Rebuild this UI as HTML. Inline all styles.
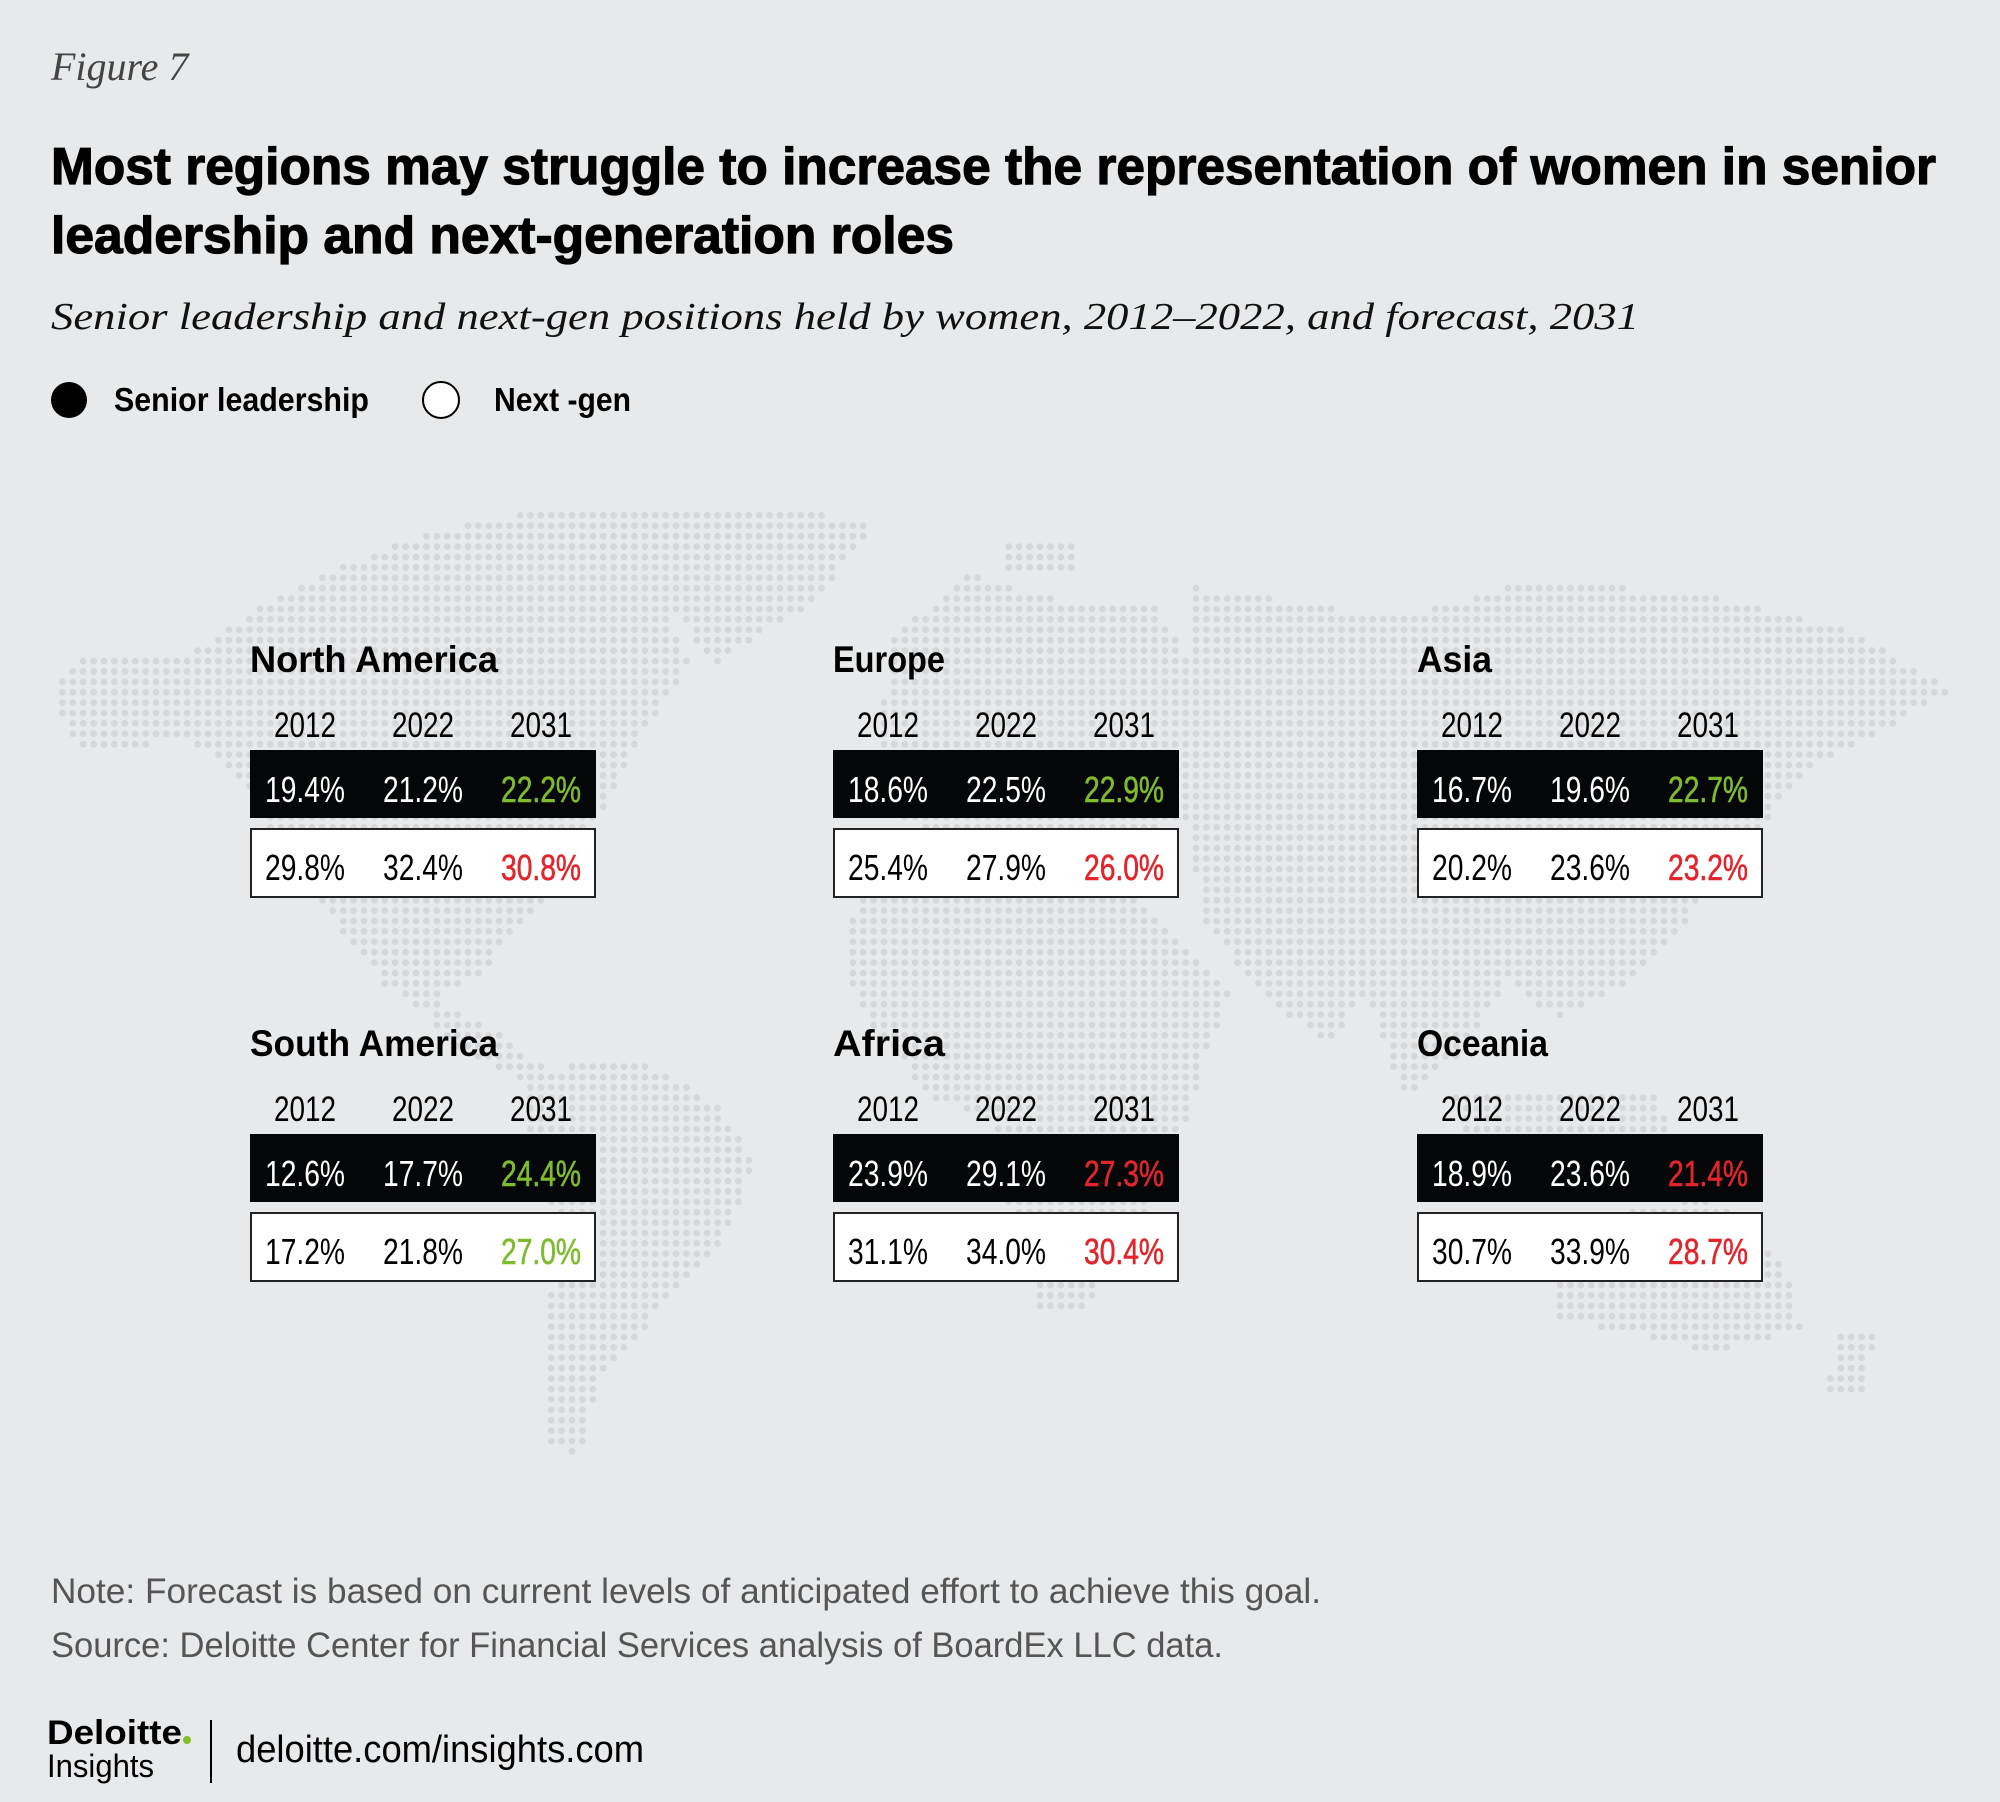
<!DOCTYPE html>
<html><head><meta charset="utf-8"><style>
html,body{margin:0;padding:0;background:#e8e9ea;}
svg{display:block;font-family:"Liberation Sans",sans-serif;}
</style></head><body>
<svg id="chart" width="2000" height="1802" viewBox="0 0 2000 1802" xmlns="http://www.w3.org/2000/svg">
<rect width="2000" height="1802" fill="#e8e9ea"/>
<g id="dots"></g>
<text x="51" y="80" font-family="Liberation Serif, serif" font-style="italic" font-size="40" fill="#444">Figure 7</text>
<text x="51" y="184" font-size="52" font-weight="bold" fill="#000" stroke="#000" stroke-width="1.2" textLength="1885" lengthAdjust="spacingAndGlyphs">Most regions may struggle to increase the representation of women in senior</text>
<text x="51" y="253" font-size="52" font-weight="bold" fill="#000" stroke="#000" stroke-width="1.2" textLength="903" lengthAdjust="spacingAndGlyphs">leadership and next-generation roles</text>
<text x="51" y="329" font-family="Liberation Serif, serif" font-style="italic" font-size="38" fill="#111" textLength="1588" lengthAdjust="spacingAndGlyphs">Senior leadership and next-gen positions held by women, 2012–2022, and forecast, 2031</text>
<g>
<circle cx="69" cy="400" r="18" fill="#000"/>
<text x="114" y="411" font-size="33" font-weight="bold" textLength="255" lengthAdjust="spacingAndGlyphs">Senior leadership</text>
<circle cx="441" cy="400" r="18" fill="#fff" stroke="#000" stroke-width="2"/>
<text x="494" y="411" font-size="33" font-weight="bold" textLength="137" lengthAdjust="spacingAndGlyphs">Next -gen</text>
</g>
<g id="panels"></g>
<text x="51" y="1603" font-size="35" fill="#555" textLength="1270" lengthAdjust="spacingAndGlyphs">Note: Forecast is based on current levels of anticipated effort to achieve this goal.</text>
<text x="51" y="1657" font-size="35" fill="#555" textLength="1172" lengthAdjust="spacingAndGlyphs">Source: Deloitte Center for Financial Services analysis of BoardEx LLC data.</text>
<g>
<text x="47" y="1744" font-size="34" font-weight="bold" fill="#000" textLength="135" lengthAdjust="spacingAndGlyphs">Deloitte</text>
<circle cx="187" cy="1740" r="4" fill="#86bc25"/>
<text x="47" y="1777" font-size="32" fill="#000" textLength="107" lengthAdjust="spacingAndGlyphs">Insights</text>
</g>
<line x1="211" y1="1720" x2="211" y2="1783" stroke="#000" stroke-width="2"/>
<text x="236" y="1762" font-size="38" fill="#000" textLength="408" lengthAdjust="spacingAndGlyphs">deloitte.com/insights.com</text>
</svg>
<script>
const regions = ["North America","Europe","Asia","South America","Africa","Oceania"];
const years = ["2012","2022","2031"];
const seniorValues = [[19.4,21.2,22.2],[18.6,22.5,22.9],[16.7,19.6,22.7],[12.6,17.7,24.4],[23.9,29.1,27.3],[18.9,23.6,21.4]];
const nextgenValues = [[29.8,32.4,30.8],[25.4,27.9,26.0],[20.2,23.6,23.2],[17.2,21.8,27.0],[31.1,34.0,30.4],[30.7,33.9,28.7]];

const NS = "http://www.w3.org/2000/svg";
const S = 2000/1568;
const shapes = [
 [[40,540],[60,515],[150,510],[240,455],[330,420],[420,400],[480,400],[520,470],[540,520],[500,580],[470,640],[430,700],[380,760],[330,790],[300,770],[260,720],[220,680],[200,620],[150,580],[60,590]],
 [[470,400],[690,405],[640,470],[560,520],[520,470]],
 [[330,780],[400,815],[430,840],[410,850],[340,810]],
 [[415,840],[500,828],[560,865],[592,910],[565,980],[515,1030],[470,1080],[455,1140],[432,1135],[430,1030],[438,960],[410,900]],
 [[700,500],[760,450],[830,470],[900,470],[935,520],[935,640],[870,660],[760,665],[700,640],[688,580]],
 [[790,425],[840,425],[840,450],[790,450]],
 [[675,700],[760,680],[860,680],[905,720],[965,780],[945,830],[925,900],[885,980],[845,1030],[812,1025],[792,950],[782,880],[730,860],[680,800],[660,750]],
 [[930,460],[1000,470],[1100,485],[1200,455],[1330,465],[1450,495],[1530,540],[1480,570],[1420,600],[1380,650],[1340,700],[1300,750],[1262,780],[1222,800],[1182,770],[1142,830],[1100,860],[1072,780],[1040,820],[990,780],[942,720],[932,640]],
 [[1140,860],[1300,860],[1325,910],[1160,915]],
 [[1215,980],[1280,950],[1340,938],[1400,990],[1412,1042],[1340,1060],[1262,1042],[1218,1032]],
 [[1440,1045],[1472,1045],[1460,1090],[1432,1090]]
];
function inside(p,poly){let c=false;for(let i=0,j=poly.length-1;i<poly.length;j=i++){const a=poly[i],b=poly[j];if((a[1]>p[1])!=(b[1]>p[1])&&p[0]<(b[0]-a[0])*(p[1]-a[1])/(b[1]-a[1])+a[0])c=!c;}return c;}
const dg=document.getElementById('dots');
const step=10.4;
for(let y=505;y<1460;y+=step){for(let x=52;x<1960;x+=step){const d=[x/S,y/S];
 if(shapes.some(s=>inside(d,s))){const c=document.createElementNS(NS,'circle');c.setAttribute('cx',x.toFixed(1));c.setAttribute('cy',y.toFixed(1));c.setAttribute('r','3.4');c.setAttribute('fill','#d6d7d9');
 
 
 dg.appendChild(c);}}}

const colX = [250,833,1417];
const rowY = [0,384];
const colOff = [55,173,291];
const pg=document.getElementById('panels');
function txt(parent,x,y,s,size,fill,weight,anchor,len){const t=document.createElementNS(NS,'text');t.setAttribute('x',x);t.setAttribute('y',y);t.setAttribute('font-size',size);t.setAttribute('fill',fill);if(weight)t.setAttribute('font-weight',weight);if(anchor)t.setAttribute('text-anchor',anchor);if(len){t.setAttribute('textLength',len);t.setAttribute('lengthAdjust','spacingAndGlyphs');}t.textContent=s;parent.appendChild(t);return t;}
regions.forEach((r,i)=>{
 const x0=colX[i%3], dy=rowY[Math.floor(i/3)];
 const g=document.createElementNS(NS,'g');
 
 
 pg.appendChild(g);
 const t=txt(g,x0,672+dy,r,37,'#000','bold',null,null);
 
 
 const w=r.length*16.5+ (r.includes(' ')?5:0);
 t.setAttribute('textLength',Math.round(w*1.13));t.setAttribute('lengthAdjust','spacingAndGlyphs');
 years.forEach((yv,k)=>{const e=txt(g,x0+colOff[k],737+dy,yv,35,'#000',null,'middle',62);
  
  });
 const b=document.createElementNS(NS,'rect');b.setAttribute('x',x0);b.setAttribute('y',750+dy);b.setAttribute('width',346);b.setAttribute('height',68);b.setAttribute('fill','#050607');
 
 
 g.appendChild(b);
 const wb=document.createElementNS(NS,'rect');wb.setAttribute('x',x0+1);wb.setAttribute('y',829+dy);wb.setAttribute('width',344);wb.setAttribute('height',68);wb.setAttribute('fill','#fff');wb.setAttribute('stroke','#222');wb.setAttribute('stroke-width','2');
 
 
 g.appendChild(wb);
 const rows=[[seniorValues[i],802,'#fff'],[nextgenValues[i],880,'#000']];
 rows.forEach(([vals,by,base])=>{
  vals.forEach((v,k)=>{let fill=base;
   if(k===2){fill = v>vals[1]?'#7fbb2f':'#e0262c';}
   const e=txt(g,x0+colOff[k],by+dy,v.toFixed(1)+'%',36,fill,null,'middle',80);
   if(k===2){e.setAttribute('stroke',fill);e.setAttribute('stroke-width','0.6');}
   
   
  });
 });
});
</script>
</body></html>
